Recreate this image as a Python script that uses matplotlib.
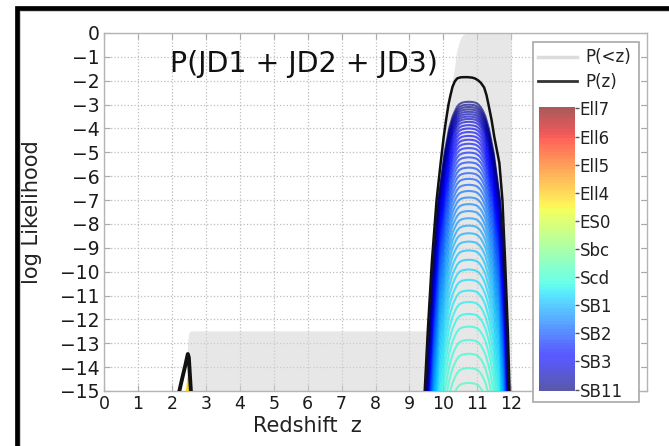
import numpy as np
import matplotlib
matplotlib.use("Agg")
import matplotlib.pyplot as plt
from matplotlib.patches import Rectangle
from matplotlib.lines import Line2D
from matplotlib.colors import ListedColormap

# ---- data -------------------------------------------------------------
# cumulative probability P(<z), log10 scale
cum_z = [2.43, 2.46, 2.49, 2.55, 9.50, 9.52, 9.60, 9.70, 9.80, 9.90, 10.00,
         10.10, 10.20, 10.30, 10.35, 10.38, 10.43, 10.48, 10.53, 10.58,
         10.65, 12.00]
cum_logp = [-15.0, -13.0, -12.6, -12.48, -12.48, -12.48, -10.2, -8.0, -6.3,
            -5.0, -4.0, -3.2, -2.5, -1.7, -1.25, -0.84, -0.55, -0.32, -0.17,
            -0.07, -0.02, 0.0]

# marginal P(z), log10 likelihood, high-z solution
pz_z = [9.45, 9.54, 9.66, 9.80, 9.92, 10.01, 10.08, 10.15, 10.21, 10.27,
        10.34, 10.41, 10.50, 10.60, 10.72, 10.85, 10.94, 11.02, 11.10,
        11.20, 11.27, 11.33, 11.42, 11.50, 11.65, 11.74, 11.82, 11.90, 11.95]
pz_logl = [-15.0, -12.5, -9.6, -7.0, -5.45, -4.35, -3.64, -3.0, -2.6, -2.25,
           -2.02, -1.90, -1.86, -1.85, -1.85, -1.87, -1.91, -1.98, -2.08,
           -2.28, -2.6, -3.0, -3.64, -4.35, -5.45, -7.0, -9.6, -12.5, -15.0]

# marginal P(z), low-z solution
pz_low_z = [2.22, 2.30, 2.40, 2.47, 2.50, 2.53, 2.56]
pz_low_logl = [-15.0, -14.5, -13.9, -13.45, -13.6, -14.3, -15.0]

# best-fitting template (SB11) likelihood curve
sb11_z = [9.50, 9.57, 9.69, 9.85, 10.04, 10.17, 10.27, 10.34, 10.40, 10.47,
          10.55, 10.65, 10.75, 10.85, 10.95, 11.03, 11.10, 11.17, 11.24,
          11.34, 11.48, 11.67, 11.80, 11.88, 11.92]
sb11_logl = [-15.0, -13.0, -10.0, -7.0, -5.0, -4.0, -3.5, -3.27, -3.1, -2.98,
             -2.92, -2.89, -2.88, -2.89, -2.92, -2.99, -3.1, -3.27, -3.5,
             -4.0, -5.0, -7.0, -10.0, -13.0, -15.0]

# peak log likelihood of each interpolated template, from SB11 towards Scd
template_peaks = [-2.88, -3.00, -3.10, -3.20, -3.30, -3.40, -3.50, -3.60,
                  -3.72, -3.86, -4.00, -4.15, -4.31, -4.47, -4.64, -4.82,
                  -5.01, -5.21, -5.42, -5.64, -5.87, -6.11, -6.36, -6.62,
                  -6.89, -7.17, -7.46, -7.76, -8.07, -8.39, -8.74, -9.11,
                  -9.50, -9.91, -10.34, -10.79, -11.27, -11.77, -12.30,
                  -12.86, -13.44, -14.04, -14.66]

# elliptical template near the low-z solution
ell_low_z = [2.44, 2.48, 2.52, 2.56]
ell_low_logl = [-15.0, -14.45, -14.4, -15.0]

template_names = ['Ell7', 'Ell6', 'Ell5', 'Ell4', 'ES0', 'Sbc', 'Scd',
                  'SB1', 'SB2', 'SB3', 'SB11']
n_interp = 10  # interpolated templates between named ones

x_ticks = list(range(0, 13))
y_ticks = list(range(0, -16, -1))

# ---- figure -----------------------------------------------------------
W, H = 669, 446
fig = plt.figure(figsize=(W / 100, H / 100), dpi=100)
fig.patch.set_facecolor('white')

ax = fig.add_axes([104 / W, 1 - 391 / H, (647 - 104) / W, (391 - 33) / H])
ax.set_xlim(0, 16)
ax.set_ylim(-15, 0)

cmap = plt.get_cmap('jet')
n_total = n_interp * (len(template_names) - 1) + 1

# washed-out version of the palette for the colour bar
base = cmap(np.linspace(0, 1, 256))
soft = base.copy()
soft[:, :3] = 1 - 0.65 * (1 - base[:, :3])
soft_cmap = ListedColormap(soft)

# cumulative probability shading
ax.fill_between(cum_z, -15, cum_logp, color='#d4d4d4', alpha=0.55,
                lw=0, zorder=1)

# template likelihood curves, faintest first
sb11_z_arr = np.array(sb11_z)
sb11_l_arr = np.array(sb11_logl)
for k in range(len(template_peaks) - 1, -1, -1):
    shift = template_peaks[k] - template_peaks[0]
    ax.plot(sb11_z_arr, sb11_l_arr + shift, color=cmap(k / (n_total - 1)),
            lw=1.5, alpha=0.65, zorder=3, solid_capstyle='round')

# low-z elliptical template
ax.fill_between(ell_low_z, -15, ell_low_logl, color=cmap(0.68), alpha=0.8,
                lw=0, zorder=3)
ax.plot(ell_low_z, ell_low_logl, color=cmap(0.68), lw=1.2, zorder=3)

# marginal P(z)
ax.plot(pz_z, pz_logl, color='#111111', lw=1.8, zorder=5)
ax.plot(pz_low_z, pz_low_logl, color='#111111', lw=2.8, zorder=5)

# axes styling
ax.set_xticks(x_ticks)
ax.set_yticks(y_ticks)
ax.grid(True, linestyle=':', color='#bdbdbd', lw=0.9, zorder=0)
ax.set_axisbelow(True)
ax.tick_params(direction='in', top=True, right=True, length=4,
               color='#aaaaaa', labelcolor='#1a1a1a', pad=3)
ax.tick_params(axis='x', labelsize=12.5)
ax.tick_params(axis='y', labelsize=13.5)
for sp in ax.spines.values():
    sp.set_color('#b4b4b4')
    sp.set_linewidth(1.0)

ax.set_xlabel('Redshift  z', fontsize=15, color='#222222')
ax.xaxis.set_label_coords(6 / 16, -0.07)
ax.set_ylabel('log Likelihood', fontsize=15, color='#222222')
ax.yaxis.set_label_coords(-0.115, 0.5)

ax.text(0.368, 0.891, 'P(JD1 + JD2 + JD3)', transform=ax.transAxes,
        ha='center', va='baseline', fontsize=20.5, color='#111111', zorder=6)

# legend frame holding the line entries and the template colour bar
ax.add_patch(Rectangle((533 / W, 1 - 402 / H), (639 - 533) / W,
                       (402 - 42) / H, transform=fig.transFigure,
                       facecolor='white', edgecolor='#a8a8a8', lw=1.2,
                       clip_on=False, zorder=8))
handles = [Line2D([], [], color='#dcdcdc', lw=2.5),
           Line2D([], [], color='#333333', lw=2.0)]
leg = ax.legend(handles, ['P(<z)', 'P(z)'], loc='upper left',
                bbox_to_anchor=(535 / W, 1 - 45 / H),
                bbox_transform=fig.transFigure, frameon=False, fontsize=12,
                handlelength=2.3, handletextpad=0.5, labelspacing=0.4,
                borderpad=0.2, borderaxespad=0)
leg.set_zorder(9)
for t in leg.get_texts():
    t.set_color('#222222')

cax = fig.add_axes([539 / W, 1 - 391 / H, (575 - 539) / W, (391 - 107) / H])
levels = np.arange(n_total)
cax.pcolormesh(np.array([0, 1]), np.arange(n_total + 1) - 0.5,
               (levels[::-1] / (n_total - 1))[:, None], cmap=soft_cmap,
               vmin=0, vmax=1, edgecolors='face', lw=0)
cax.set_ylim(n_total - 0.5, -0.5)
cax.set_xlim(0, 1)
cax.set_xticks([])
cax.set_yticks(np.arange(0, n_total, n_interp))
cax.set_yticklabels(template_names)
cax.yaxis.tick_right()
cax.tick_params(axis='y', direction='out', length=3, width=1,
                color='#555555', pad=0.5, labelsize=12, labelcolor='#222222')
for sp in cax.spines.values():
    sp.set_visible(False)

# outer frame
fig.patches.append(Rectangle((19.5 / W, -1), 2, 1 + (1 - 10.5 / H),
                             transform=fig.transFigure, fill=False,
                             edgecolor='#c4c4c4', lw=1.1, zorder=10))
fig.patches.append(Rectangle((16.5 / W, -1), 2, 1 + (1 - 7.5 / H),
                             transform=fig.transFigure, fill=False,
                             edgecolor='black', lw=3.4, zorder=11))

fig.savefig('out.png', dpi=100)
